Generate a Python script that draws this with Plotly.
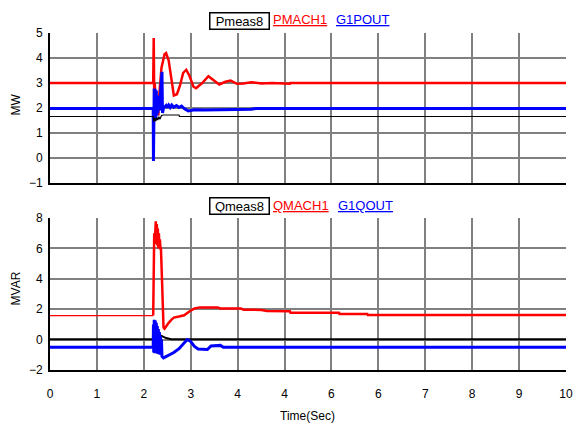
import plotly.graph_objects as go

# ---------------- data ----------------
x_tick_vals = [0, 10/11, 20/11, 30/11, 40/11, 50/11, 60/11, 70/11, 80/11, 90/11, 100/11, 10]
x_tick_text = ["0", "1", "2", "3", "4", "4", "6", "6", "7", "8", "9", "10"]

# Top panel (MW)
pmeas8_t = [0, 2.0, 2.01, 2.03, 2.05, 2.07, 2.09, 2.11, 2.13, 2.16, 2.2, 2.5, 2.51, 10]
pmeas8_v = [1.66, 1.66, 1.45, 1.6, 1.48, 1.62, 1.52, 1.65, 1.55, 1.7, 1.72, 1.72, 1.66, 1.66]

pmach1_t = [0, 2.0, 2.01, 2.02, 2.03, 2.05, 2.07, 2.09, 2.10, 2.12, 2.16, 2.22, 2.25, 2.30, 2.36,
            2.40, 2.46, 2.52, 2.58, 2.64, 2.70, 2.78, 2.83, 2.95, 3.07, 3.17, 3.28, 3.40, 3.50,
            3.62, 3.75, 3.9, 4.1, 4.3, 4.5, 4.65, 4.66, 10]
pmach1_v = [3.0, 3.0, 4.8, 2.35, 3.0, 2.1, 1.75, 1.95, 1.7, 2.6, 3.6, 4.15, 4.2, 3.9, 3.0,
            2.5, 2.55, 2.9, 3.4, 3.53, 3.3, 2.85, 2.79, 3.0, 3.27, 3.1, 2.94, 3.05, 3.1,
            2.97, 2.98, 3.03, 2.98, 3.0, 2.97, 2.97, 3.0, 3.0]

g1pout_t = [0, 2.0, 2.005, 2.01, 2.02, 2.03, 2.04, 2.05, 2.06, 2.07, 2.08, 2.09, 2.10, 2.12,
            2.17, 2.18, 2.2, 2.25, 2.27, 2.3, 2.33, 2.36, 2.4, 2.45, 2.5, 2.55, 2.6, 2.68,
            2.8, 3.0, 3.3, 3.4, 3.9, 4.0, 10]
g1pout_v = [1.98, 1.98, -0.12, 2.0, 2.78, 1.5, 2.75, 1.6, 2.7, 1.7, 2.5, 1.8, 2.3, 1.9,
            3.45, 1.8, 2.0, 2.1, 2.02, 2.12, 2.02, 2.12, 2.03, 2.1, 2.02, 2.08, 1.98, 1.88,
            1.93, 1.92, 1.92, 1.95, 1.95, 1.98, 1.98]

# Bottom panel (MVAR)
qmeas8_t = [0, 2.0, 2.01, 2.1, 2.15, 2.25, 2.35, 10]
qmeas8_v = [0.03, 0.03, 0.5, 0.4, 0.26, 0.1, 0.03, 0.03]

qmach1_pre_t = [0, 2.0]
qmach1_pre_v = [1.58, 1.58]
qmach1_t = [2.0, 2.01, 2.02, 2.03, 2.04, 2.05, 2.06, 2.07, 2.08, 2.09, 2.10, 2.11, 2.12, 2.13,
            2.14, 2.15, 2.17, 2.2, 2.22, 2.26, 2.3, 2.35, 2.4, 2.5, 2.6, 2.7, 2.8, 2.9, 3.25,
            3.3, 3.7, 3.75, 4.1, 4.2, 4.65, 4.66, 5.6, 5.61, 6.15, 6.16, 10]
qmach1_v = [1.58, 6.2, 7.0, 6.3, 7.5, 7.78, 6.5, 7.6, 6.2, 7.3, 6.0, 7.0, 6.0, 6.6,
            6.0, 6.0, 4.0, 0.8, 0.72, 0.95, 1.1, 1.3, 1.45, 1.52, 1.6, 1.85, 2.05, 2.12, 2.12,
            2.05, 2.05, 1.97, 1.95, 1.88, 1.86, 1.76, 1.76, 1.69, 1.69, 1.62, 1.62]

g1qout_t = [0, 2.0, 2.005, 2.01, 2.02, 2.03, 2.04, 2.05, 2.06, 2.07, 2.08, 2.09, 2.10, 2.11,
            2.12, 2.13, 2.14, 2.15, 2.16, 2.17, 2.2, 2.3, 2.4, 2.5, 2.6, 2.66, 2.72, 2.8, 2.87,
            3.05, 3.12, 3.3, 3.36, 10]
g1qout_v = [-0.51, -0.51, 1.0, -0.85, 1.3, -0.9, 1.25, -0.9, 1.1, -0.9, 0.9, -0.95, 0.7, -0.95,
            0.5, -1.0, 0.25, -1.0, 0.0, -1.1, -1.2, -1.05, -0.85, -0.6, -0.2, 0.0, -0.1, -0.45, -0.62,
            -0.65, -0.42, -0.38, -0.51, -0.51]

RED = "#ff0000"
BLUE = "#0000ff"
BLACK = "#000000"
GRID = "#808080"
FONT = "Liberation Sans, Arial, sans-serif"

fig = go.Figure()
# top panel
fig.add_trace(go.Scatter(x=pmach1_t, y=pmach1_v, mode="lines", line=dict(color=RED, width=2.5), xaxis="x2", yaxis="y2"))
fig.add_trace(go.Scatter(x=g1pout_t, y=g1pout_v, mode="lines", line=dict(color=BLUE, width=3), xaxis="x2", yaxis="y2"))
fig.add_trace(go.Scatter(x=pmeas8_t, y=pmeas8_v, mode="lines", line=dict(color=BLACK, width=1.2), xaxis="x2", yaxis="y2"))
# bottom panel
fig.add_trace(go.Scatter(x=qmach1_pre_t, y=qmach1_pre_v, mode="lines", line=dict(color=RED, width=1.2), xaxis="x", yaxis="y"))
fig.add_trace(go.Scatter(x=qmach1_t, y=qmach1_v, mode="lines", line=dict(color=RED, width=2.5), xaxis="x", yaxis="y"))
fig.add_trace(go.Scatter(x=qmeas8_t, y=qmeas8_v, mode="lines", line=dict(color=BLACK, width=2), xaxis="x", yaxis="y"))
fig.add_trace(go.Scatter(x=g1qout_t, y=g1qout_v, mode="lines", line=dict(color=BLUE, width=3), xaxis="x", yaxis="y"))

L, R, T, B = 50, 2, 33, 54
W, H = 575, 424
pw, ph = W - L - R, H - T - B

def px(xp):
    return (xp - L) / pw

def py(yp):
    return (H - B - yp) / ph

xcommon = dict(range=[0, 10], tickvals=x_tick_vals, ticktext=x_tick_text, showgrid=True,
               gridcolor=GRID, gridwidth=1.5, zeroline=False, showline=True, linecolor=BLACK,
               linewidth=2, ticks="outside", ticklen=12, tickcolor="rgba(0,0,0,0)",
               ticklabeloverflow="allow",
               tickfont=dict(family=FONT, size=12, color=BLACK), fixedrange=True)
ycommon = dict(showgrid=True, gridcolor=GRID, gridwidth=1.5, zeroline=False, showline=True,
               linecolor=BLACK, linewidth=2, ticks="outside", ticklen=3, tickcolor="rgba(0,0,0,0)",
               tickfont=dict(family=FONT, size=12, color=BLACK), fixedrange=True)

fig.update_layout(
    width=W, height=H, margin=dict(l=L, r=R, t=T, b=B),
    paper_bgcolor="white", plot_bgcolor="white", showlegend=False,
    xaxis=dict(**xcommon, anchor="y"),
    yaxis=dict(**ycommon, domain=[0, py(218)], range=[-2, 8], dtick=2, anchor="x"),
    xaxis2=dict(**{**xcommon, "showticklabels": False}, anchor="y2"),
    yaxis2=dict(**ycommon, domain=[py(183), 1], range=[-1, 5], dtick=1, anchor="x2"),
    font=dict(family=FONT, size=12, color=BLACK),
)

ann = []
def box(text, cx, cy):
    ann.append(dict(text=text, x=px(cx), y=py(cy), xref="paper", yref="paper", showarrow=False,
                    xanchor="center", yanchor="middle", font=dict(family=FONT, size=13, color=BLACK),
                    bordercolor=BLACK, borderwidth=1.5, borderpad=1, width=56, height=13, bgcolor="white"))
def lab(text, cx, cy, color):
    ann.append(dict(text="<u>" + text + "</u>", x=px(cx), y=py(cy), xref="paper", yref="paper",
                    showarrow=False, xanchor="center", yanchor="middle",
                    font=dict(family=FONT, size=13, color=color)))

box("Pmeas8", 242.5, 20.5)
lab("PMACH1", 303.5, 19.5, RED)
lab("G1POUT", 367, 19.5, BLUE)
box("Qmeas8", 242, 206)
lab("QMACH1", 304, 205, RED)
lab("G1QOUT", 369.5, 205, BLUE)

ann.append(dict(text="MW", x=px(16), y=py(104), xref="paper", yref="paper", showarrow=False,
                textangle=-90, xanchor="center", yanchor="middle", font=dict(family=FONT, size=12, color=BLACK)))
ann.append(dict(text="MVAR", x=px(16), y=py(288), xref="paper", yref="paper", showarrow=False,
                textangle=-90, xanchor="center", yanchor="middle", font=dict(family=FONT, size=12, color=BLACK)))
ann.append(dict(text="Time(Sec)", x=px(311), y=py(416), xref="paper", yref="paper", showarrow=False,
                xanchor="center", yanchor="middle", font=dict(family=FONT, size=12, color=BLACK)))
fig.update_layout(annotations=ann)

fig.write_html("out.html")
